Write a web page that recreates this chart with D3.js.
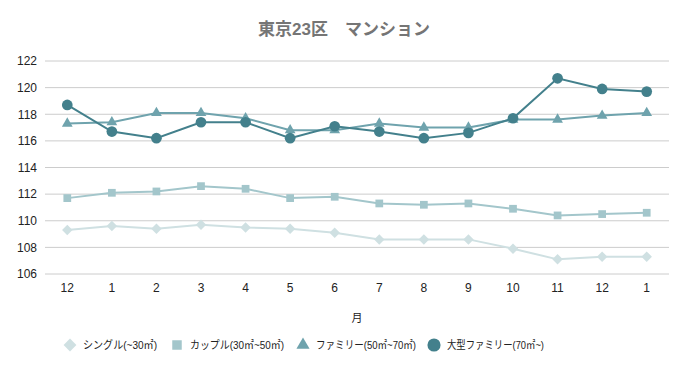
<!DOCTYPE html>
<html>
<head>
<meta charset="utf-8">
<script src="https://cdn.jsdelivr.net/npm/d3@7"></script>
<style>
  body { margin: 0; background: #fff; }
  text { font-family: "Liberation Sans", Arial, "Noto Sans CJK JP", sans-serif; }
</style>
</head>
<body>
<div id="container"></div>
<script>
// データ
const months = ['12', '1', '2', '3', '4', '5', '6', '7', '8', '9', '10', '11', '12', '1'];
const single = [109.3, 109.6, 109.4, 109.7, 109.5, 109.4, 109.1, 108.6, 108.6, 108.6, 107.9, 107.1, 107.3, 107.3];
const couple = [111.7, 112.1, 112.2, 112.6, 112.4, 111.7, 111.8, 111.3, 111.2, 111.3, 110.9, 110.4, 110.5, 110.6];
const family = [117.3, 117.4, 118.1, 118.1, 117.7, 116.8, 116.8, 117.3, 117.0, 117.0, 117.6, 117.6, 117.9, 118.1];
const bigFamily = [118.7, 116.7, 116.2, 117.4, 117.4, 116.2, 117.1, 116.7, 116.2, 116.6, 117.7, 120.7, 119.9, 119.7];
const yTicks = [106, 108, 110, 112, 114, 116, 118, 120, 122];

const series = [
  { name: 'シングル(~30㎡)', values: single, color: '#cfe0e2', symbol: d3.symbolDiamond2, size: 70 },
  { name: 'カップル(30㎡~50㎡)', values: couple, color: '#a3c6cb', symbol: d3.symbolSquare, size: 60 },
  { name: 'ファミリー(50㎡~70㎡)', values: family, color: '#6fa3ad', symbol: d3.symbolTriangle, size: 50 },
  { name: '大型ファミリー(70㎡~)', values: bigFamily, color: '#43808c', symbol: d3.symbolCircle, size: 90 }
];

const width = 688, height = 371;
const margin = { top: 61, right: 19, bottom: 97, left: 45 };
const w = width - margin.left - margin.right;
const h = height - margin.top - margin.bottom;

const root = d3.select('#container').append('svg')
  .attr('width', width)
  .attr('height', height);

// タイトル
root.append('text')
  .attr('x', width / 2)
  .attr('y', 35)
  .attr('text-anchor', 'middle')
  .attr('font-size', 17)
  .attr('font-weight', 'bold')
  .attr('fill', '#757575')
  .style('white-space', 'pre')
  .text('東京23区\u3000マンション');

const svg = root.append('g')
  .attr('transform', `translate(${margin.left},${margin.top})`);

const idx = months.map((m, i) => i);
const x = d3.scaleBand().domain(idx).range([0, w]).padding(0);
const cx = i => x(i) + x.bandwidth() / 2;
const y = d3.scaleLinear().domain([106, 122]).range([h, 0]);

// グリッド
svg.selectAll('line.grid')
  .data(yTicks)
  .enter()
  .append('line')
    .attr('x1', 0)
    .attr('x2', w)
    .attr('y1', d => y(d))
    .attr('y2', d => y(d))
    .attr('stroke', '#cccccc')
    .attr('stroke-width', 1);

// 軸ラベル
const yAxis = svg.append('g')
  .call(d3.axisLeft(y).tickValues(yTicks).tickSize(0).tickPadding(8));
yAxis.select('.domain').remove();
yAxis.selectAll('text').attr('font-size', 12).attr('fill', '#222');

const xAxis = svg.append('g')
  .attr('transform', `translate(0,${h})`)
  .call(d3.axisBottom(x).tickFormat(i => months[i]).tickSize(0).tickPadding(9));
xAxis.select('.domain').remove();
xAxis.selectAll('text').attr('font-size', 12).attr('fill', '#222');

svg.append('text')
  .attr('x', w / 2)
  .attr('y', h + 48)
  .attr('text-anchor', 'middle')
  .attr('font-size', 11)
  .attr('fill', '#222')
  .text('月');

// 線とマーカー
const line = d3.line()
  .x((d, i) => cx(i))
  .y(d => y(d));

series.forEach(s => {
  svg.append('path')
    .datum(s.values)
    .attr('fill', 'none')
    .attr('stroke', s.color)
    .attr('stroke-width', 2)
    .attr('d', line);
  svg.selectAll(null)
    .data(s.values)
    .enter()
    .append('path')
      .attr('d', d3.symbol().type(s.symbol).size(s.size))
      .attr('transform', (d, i) => `translate(${cx(i)},${y(d)})`)
      .attr('fill', s.color);
});

// 凡例
const legendX = [70, 177, 303, 434];
const legendW = [74, 94, 100, 97];
const legend = root.append('g').attr('transform', 'translate(0,345)');
series.forEach((s, i) => {
  const g = legend.append('g').attr('transform', `translate(${legendX[i]},0)`);
  g.append('path')
    .attr('d', d3.symbol().type(s.symbol).size(s.size * 1.5))
    .attr('fill', s.color);
  g.append('text')
    .attr('x', 13)
    .attr('y', 4)
    .attr('font-size', 11)
    .attr('fill', '#222')
    .attr('textLength', legendW[i])
    .attr('lengthAdjust', 'spacingAndGlyphs')
    .text(s.name);
});
</script>
</body>
</html>
